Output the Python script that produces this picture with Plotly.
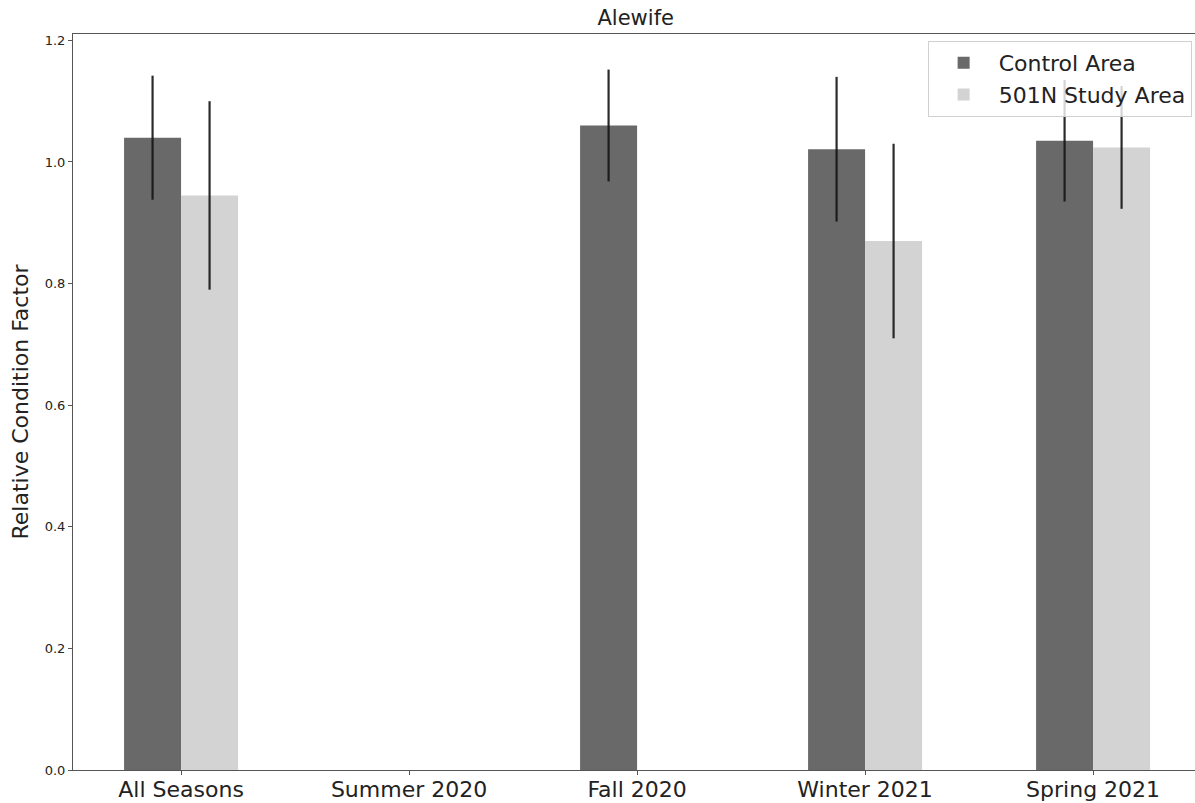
import plotly.graph_objects as go

categories = ["All Seasons", "Summer 2020", "Fall 2020", "Winter 2021", "Spring 2021"]
control_mean = [1.040, None, 1.060, 1.021, 1.035]
control_err = [0.102, None, 0.092, 0.119, 0.100]
study_mean = [0.945, None, None, 0.870, 1.024]
study_err = [0.155, None, None, 0.160, 0.101]
series_names = ["Control Area", "501N Study Area"]

bar_w = 0.25
idx = list(range(len(categories)))

fig = go.Figure()
fig.add_trace(go.Bar(
    x=[i - bar_w / 2 for i in idx], y=control_mean, width=bar_w,
    name=series_names[0], marker=dict(color="#696969", line=dict(width=0)),
    error_y=dict(type="data", array=control_err, visible=True, color="rgba(20,20,20,0.9)", thickness=2.2, width=0),
))
fig.add_trace(go.Bar(
    x=[i + bar_w / 2 for i in idx], y=study_mean, width=bar_w,
    name=series_names[1], marker=dict(color="#d3d3d3", line=dict(width=0)),
    error_y=dict(type="data", array=study_err, visible=True, color="rgba(20,20,20,0.9)", thickness=2.2, width=0),
))

fig.update_layout(
    width=1195, height=803,
    margin=dict(l=73, r=0, t=34, b=33),
    barmode="overlay",
    plot_bgcolor="white", paper_bgcolor="white",
    font=dict(family="DejaVu Sans", color="#222"),
    title=dict(text="Alewife", x=0.532, xref="container", xanchor="center",
               y=0.978, yref="container", yanchor="middle",
               font=dict(size=21, family="DejaVu Sans", color="#222")),
    legend=dict(x=0.997, y=0.9905, xanchor="right", yanchor="top",
                bgcolor="rgba(255,255,255,0.8)", bordercolor="#d0d0d0", borderwidth=1,
                font=dict(size=22, family="DejaVu Sans", color="#222"),
                itemsizing="constant", itemwidth=60),
    showlegend=True,
)
fig.update_xaxes(
    range=[-0.474, 4.447], tickmode="array", tickvals=idx, ticktext=categories,
    showline=True, linecolor="#555", linewidth=1, mirror=True,
    ticks="outside", ticklen=4, tickcolor="#555", ticklabelstandoff=-4,
    tickfont=dict(size=22, family="DejaVu Sans", color="#222"),
    showgrid=False, zeroline=False, automargin=False,
)
fig.update_yaxes(
    range=[0, 1.2105], tickmode="array", tickvals=[0, 0.2, 0.4, 0.6, 0.8, 1.0, 1.2],
    tickformat=".1f",
    showline=True, linecolor="#555", linewidth=1,
    ticks="outside", ticklen=4, tickcolor="#555",
    tickfont=dict(size=13, family="DejaVu Sans", color="#222"),
    title=dict(text="Relative Condition Factor", font=dict(size=22, family="DejaVu Sans", color="#222"), standoff=10),
    showgrid=False, zeroline=False, automargin=False,
)

fig.write_html("out.html", config={"displayModeBar": False},
               post_script="document.body.style.margin='0';document.body.style.overflow='hidden';")
